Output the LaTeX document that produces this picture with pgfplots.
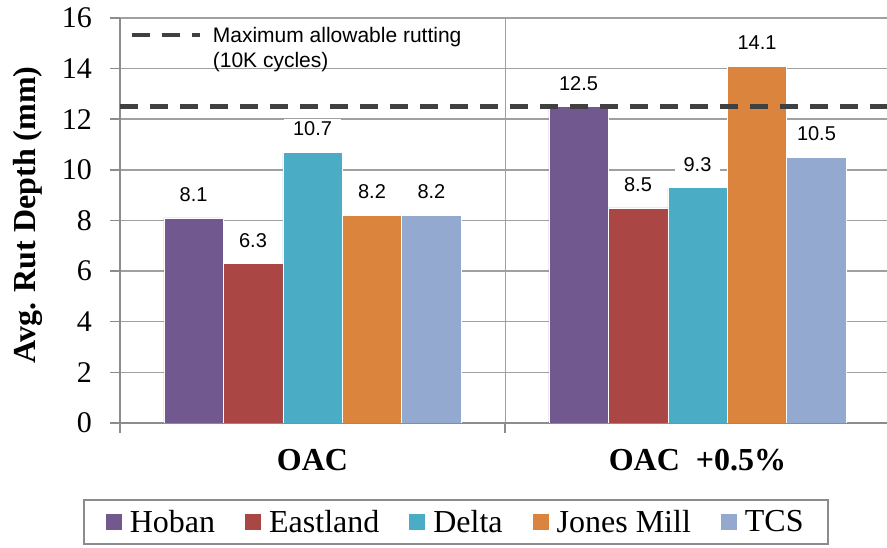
\documentclass[border=0pt]{standalone}
\usepackage{fontspec}
\setmainfont{Liberation Serif}
\newfontfamily\arial{Liberation Sans}
\usepackage{pgfplots}
\pgfplotsset{compat=1.18}

\definecolor{cHoban}{HTML}{71588F}
\definecolor{cEast}{HTML}{AA4643}
\definecolor{cDelta}{HTML}{4BACC6}
\definecolor{cJones}{HTML}{DB843D}
\definecolor{cTCS}{HTML}{93A9CF}
\definecolor{gridgray}{HTML}{A0A0A0}
\definecolor{axisgray}{HTML}{8C8C8C}
\definecolor{dashgray}{HTML}{404040}

\pgfplotsset{
  rutbase/.style={
    scale only axis, width=770pt, height=405pt,
    xmin=-0.5, xmax=1.5, ymin=0, ymax=16,
    at={(120pt,125pt)}, anchor=south west,
  },
  rutbar/.style={fill=#1, draw=white, line width=0.5pt},
}

\begin{document}
\begin{tikzpicture}[x=1pt,y=1pt]
% bars with value labels
\begin{axis}[rutbase,
  ybar, bar width=0.1545,
  axis x line*=bottom, axis y line*=left,
  axis line style={axisgray, line width=2pt, -},
  tick align=outside, major tick length=10pt,
  tick style={axisgray, line width=1.5pt},
  xtick={-0.5,0.5,1.5}, xticklabels={},
  extra x ticks={0,1},
  extra x tick labels={OAC, OAC\ \ +0.5\%},
  extra x tick style={major tick length=0pt, grid=none,
    xticklabel style={font=\bfseries\fontsize{32}{36}\selectfont, inner sep=0pt, anchor=north, yshift=-26pt}},
  ytick={0,2,...,16},
  yticklabel style={font=\fontsize{30}{36}\selectfont, inner sep=0pt, anchor=east, xshift=-18pt},
  /pgf/number format/assume math mode=true,
  ymajorgrids, xmajorgrids,
  y grid style={gridgray, line width=1.5pt},
  x grid style={gridgray, line width=1pt},
  every axis y label/.style={at={(axis description cs:-0.1091,0.5136)}, rotate=90, anchor=base},
  ylabel={Avg. Rut Depth (mm)},
  ylabel style={font=\bfseries\fontsize{32}{36}\selectfont},
  nodes near coords,
  every node near coord/.append style={font=\arial\fontsize{20}{24}\selectfont, fill=white, inner xsep=9pt, inner ysep=3pt, yshift=13pt},
  legend columns=5,
  legend style={at={(axis description cs:0.436,-0.1877)}, anchor=north,
    draw=axisgray, line width=2pt, fill=white,
    font=\fontsize{32}{36}\selectfont, inner xsep=22pt, inner ysep=8pt,
    /tikz/every odd column/.append style={column sep=6pt},
    /tikz/every even column/.append style={column sep=28pt}},
  legend image code/.code={\fill[#1, draw=none] (0pt,-8pt) rectangle (16pt,8pt);},
]
\addplot[rutbar=cHoban, bar shift=-0.309] coordinates {(0,8.1) (1,12.5)};
\addplot[rutbar=cEast,  bar shift=-0.1545] coordinates {(0,6.3) (1,8.5)};
\addplot[rutbar=cDelta, bar shift=0] coordinates {(0,10.7) (1,9.3)};
\addplot[rutbar=cJones, bar shift=0.1545] coordinates {(0,8.2) (1,14.1)};
\addplot[rutbar=cTCS,   bar shift=0.309] coordinates {(0,8.2) (1,10.5)};
\legend{Hoban, Eastland, Delta, Jones Mill, TCS}
\end{axis}
% rutting limit
\begin{axis}[rutbase, hide axis,
  legend style={at={(axis description cs:0.008,0.988)}, anchor=north west,
    draw=none, fill=none, font=\arial\fontsize{21}{25}\selectfont,
    cells={align=left, fill=white, inner xsep=8pt, inner ysep=3pt},
    /tikz/every odd column/.append style={column sep=9pt}},
  legend image code/.code={\draw[#1] (0pt,13pt) -- (68pt,13pt);},
]
\addplot[dashgray, line width=4.5pt, dash pattern=on 18pt off 12pt] coordinates {(-0.5,12.5) (1.5,12.5)};
\addlegendentry{Maximum allowable rutting\\(10K cycles)}
\end{axis}
\pgfresetboundingbox
\useasboundingbox (0,0) rectangle (887,548);
\end{tikzpicture}
\end{document}
